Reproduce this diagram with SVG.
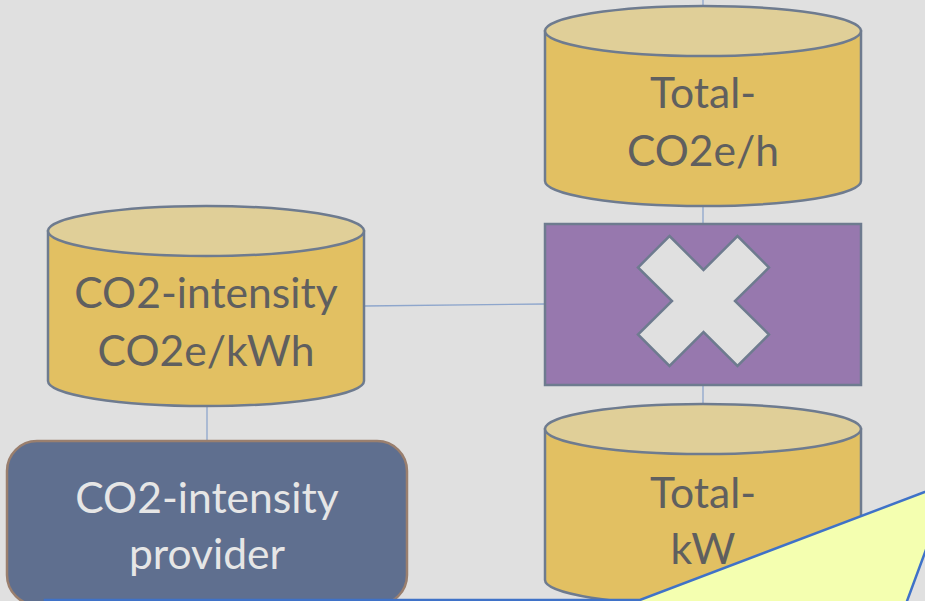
<svg xmlns="http://www.w3.org/2000/svg" width="925" height="601" viewBox="0 0 925 601">
<style>
.cylBody{fill:#e2c062;stroke:#6e7b8f;stroke-width:2.5}
.cylTop{fill:#e0cf98;stroke:#6e7b8f;stroke-width:2.5}
.lbl{font-family:Lato,"Liberation Sans",sans-serif;font-size:42.6px;fill:#5f5f5f;text-anchor:middle}
.lblW{font-family:Lato,"Liberation Sans",sans-serif;font-size:42.6px;fill:#e6e6e6;text-anchor:middle}
.conn{stroke:#8ea6cc;stroke-width:1.3;fill:none}
</style>
<rect x="0" y="0" width="925" height="601" fill="#e0e0e0"/>
<g id="connectors">
<line class="conn" x1="703" y1="0" x2="703" y2="7"/>
<line class="conn" x1="703" y1="205" x2="703" y2="224"/>
<line class="conn" x1="703" y1="386" x2="703" y2="404"/>
<line class="conn" x1="364" y1="306" x2="545" y2="304"/>
<line class="conn" x1="207" y1="405" x2="207" y2="441"/>
</g>
<g id="total-co2e">
<path class="cylBody" d="M545,31 V181 A158,25 0 0 0 861,181 V31 Z"/>
<ellipse class="cylTop" cx="703" cy="31" rx="158" ry="25"/>
<text class="lbl" x="703" y="108">Total-</text>
<text class="lbl" x="703" y="166">CO2e/h</text>
</g>
<g id="multiply">
<rect x="545" y="224" width="316" height="161" fill="#9778ae" stroke="#6e7b8f" stroke-width="2.5"/>
<polygon points="669.5,236 703.5,270 737.5,236 769,267.5 735,301 769,334.5 737.5,366 703.5,332 669.5,366 638,334.5 672,301 638,267.5" fill="#e0e0e0" stroke="#6e7b8f" stroke-width="2.5"/>
</g>
<g id="total-kw">
<path class="cylBody" d="M545,429 V580 A158,25 0 0 0 861,580 V429 Z"/>
<ellipse class="cylTop" cx="703" cy="429" rx="158" ry="25"/>
<text class="lbl" x="703" y="508">Total-</text>
<text class="lbl" x="703" y="564">kW</text>
</g>
<g id="co2-intensity">
<path class="cylBody" d="M48,231 V381 A158,25 0 0 0 364,381 V231 Z"/>
<ellipse class="cylTop" cx="206" cy="231" rx="158" ry="25"/>
<text class="lbl" x="206" y="308">CO2-intensity</text>
<text class="lbl" x="206" y="366">CO2e/kWh</text>
</g>
<g id="provider">
<rect x="7" y="441" width="400" height="164" rx="30" ry="30" fill="#5f6f8f" stroke="#9a7f6e" stroke-width="2.5"/>
<text class="lblW" x="207" y="513">CO2-intensity</text>
<text class="lblW" x="207" y="569">provider</text>
</g>
<g id="callout">
<polygon points="45,600 640,600 951,482 900,620 45,620" fill="#f4ffb0" stroke="#3f72c8" stroke-width="2.5"/>
</g>
</svg>
